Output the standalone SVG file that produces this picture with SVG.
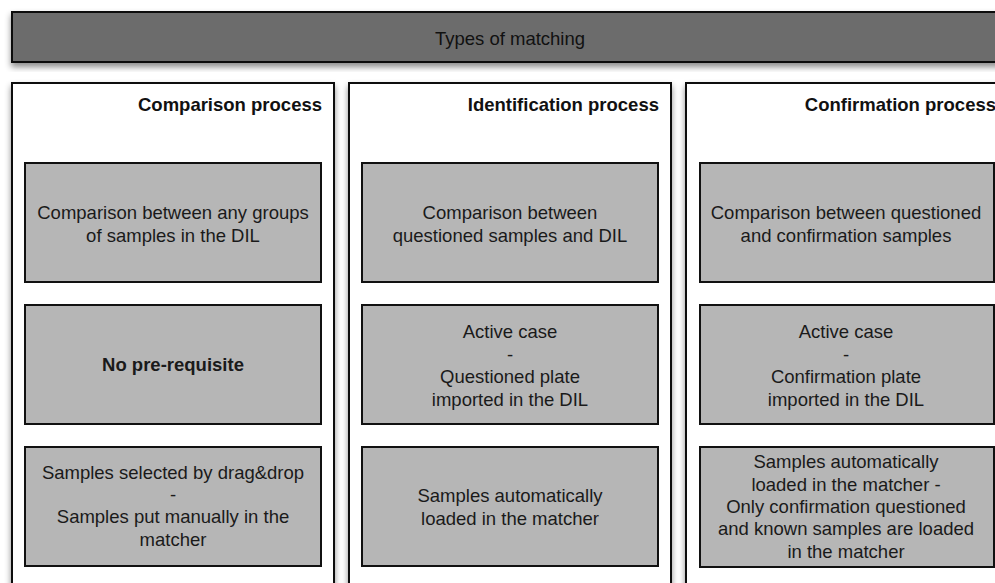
<svg xmlns="http://www.w3.org/2000/svg" width="995" height="583" viewBox="0 0 995 583">
<defs>
<filter id="sh" x="-10%" y="-10%" width="120%" height="130%">
<feDropShadow dx="0" dy="4" stdDeviation="3" flood-color="#000" flood-opacity="0.45"/>
</filter>
<style>
.bar{fill:#6c6c6c;stroke:#111;stroke-width:2}
.col{fill:#fff;stroke:#111;stroke-width:2}
.box{fill:#b6b6b6;stroke:#111;stroke-width:2}
text{font-family:"Liberation Sans",Arial,sans-serif;font-size:18.5px;fill:#1a1a1a}
.t{text-anchor:middle}
.h{font-weight:bold;text-anchor:end;font-size:18.5px;fill:#111}
.title{text-anchor:middle;font-size:18.5px;fill:#111}
</style>
</defs>
<rect width="995" height="583" fill="#fff"/>
<g id="header">
<rect class="bar" x="12" y="12" width="1000" height="50" filter="url(#sh)"/>
<text class="title" x="510" y="45">Types of matching</text>
</g>
<g id="col-comparison">
<rect class="col" x="12" y="83" width="322" height="520" filter="url(#sh)"/>
<text class="h" x="322" y="111">Comparison process</text>
</g>
<g id="col-identification">
<rect class="col" x="349" y="83" width="322" height="520" filter="url(#sh)"/>
<text class="h" x="659" y="111">Identification process</text>
</g>
<g id="col-confirmation">
<rect class="col" x="686" y="83" width="340" height="520" filter="url(#sh)"/>
<text class="h" x="996" y="111">Confirmation process</text>
</g>
<g id="c1-b1">
<rect class="box" x="25" y="163" width="296" height="119"/>
<text class="t" x="173" y="219">Comparison between any groups</text>
<text class="t" x="173" y="242">of samples in the DIL</text>
</g>
<g id="c1-b2">
<rect class="box" x="25" y="305" width="296" height="119"/>
<text class="t" x="173" y="371" font-weight="bold">No pre-requisite</text>
</g>
<g id="c1-b3">
<rect class="box" x="25" y="447" width="296" height="119"/>
<text class="t" x="173" y="479">Samples selected by drag&amp;drop</text>
<text class="t" x="173" y="501">-</text>
<text class="t" x="173" y="523">Samples put manually in the</text>
<text class="t" x="173" y="546">matcher</text>
</g>
<g id="c2-b1">
<rect class="box" x="362" y="163" width="296" height="119"/>
<text class="t" x="510" y="219">Comparison between</text>
<text class="t" x="510" y="242">questioned samples and DIL</text>
</g>
<g id="c2-b2">
<rect class="box" x="362" y="305" width="296" height="119"/>
<text class="t" x="510" y="338">Active case</text>
<text class="t" x="510" y="361">-</text>
<text class="t" x="510" y="383">Questioned plate</text>
<text class="t" x="510" y="406">imported in the DIL</text>
</g>
<g id="c2-b3">
<rect class="box" x="362" y="447" width="296" height="119"/>
<text class="t" x="510" y="502">Samples automatically</text>
<text class="t" x="510" y="525">loaded in the matcher</text>
</g>
<g id="c3-b1">
<rect class="box" x="700" y="163" width="294" height="119"/>
<text class="t" x="846" y="219">Comparison between questioned</text>
<text class="t" x="846" y="242">and confirmation samples</text>
</g>
<g id="c3-b2">
<rect class="box" x="700" y="305" width="294" height="119"/>
<text class="t" x="846" y="338">Active case</text>
<text class="t" x="846" y="361">-</text>
<text class="t" x="846" y="383">Confirmation plate</text>
<text class="t" x="846" y="406">imported in the DIL</text>
</g>
<g id="c3-b3">
<rect class="box" x="700" y="447" width="294" height="120"/>
<text class="t" x="846" y="468">Samples automatically</text>
<text class="t" x="846" y="491">loaded in the matcher -</text>
<text class="t" x="846" y="513">Only confirmation questioned</text>
<text class="t" x="846" y="535">and known samples are loaded</text>
<text class="t" x="846" y="558">in the matcher</text>
</g>
<g id="connectors"></g>
</svg>
